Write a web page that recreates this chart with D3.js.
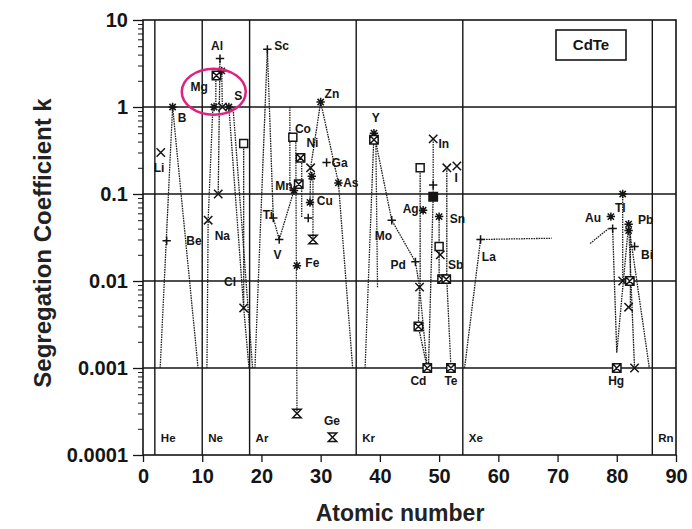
<!DOCTYPE html>
<html>
<head>
<meta charset="utf-8">
<script src="https://cdn.jsdelivr.net/npm/d3@7"></script>
<style>
body { margin: 0; background: #fff; }
text { font-family: Arial, "Liberation Sans", sans-serif; }
</style>
</head>
<body>
<div id="vis"></div>
<script>
// atomic number, k, marker type
var markers = [
  [3, 0.30, "x"], [4, 0.029, "plus"], [5, 1.0, "star"],
  [11, 0.05, "x"], [12, 1.0, "star"], [12.4, 2.3, "boxx"], [13, 3.6, "plus"],
  [13.3, 2.6, "star"], [12.7, 0.1, "x"], [14.5, 1.0, "star"], [13.4, 1.0, "x"],
  [17, 0.38, "square"], [17, 0.0049, "x"],
  [21, 4.6, "plus"], [22, 0.053, "plus"], [23, 0.03, "plus"],
  [25.5, 0.11, "star"], [26.3, 0.13, "boxx"], [25.3, 0.45, "square"], [26.6, 0.26, "boxx"],
  [28.3, 0.2, "x"], [28.5, 0.16, "star"], [28.2, 0.08, "star"], [27.9, 0.053, "plus"],
  [28.7, 0.03, "hour"], [26, 0.015, "star"], [26, 0.0003, "hour"],
  [30, 1.14, "star"], [31, 0.23, "plus"], [33, 0.134, "star"], [32, 0.00016, "hour"],
  [39, 0.5, "star"], [39, 0.42, "boxx"], [42, 0.05, "plus"],
  [46, 0.0166, "plus"], [46.7, 0.0085, "x"], [46.5, 0.003, "boxx"],
  [47.3, 0.065, "star"], [46.8, 0.2, "square"],
  [49, 0.43, "x"], [49, 0.127, "plus"], [49, 0.093, "fsq"],
  [50, 0.055, "star"], [51.3, 0.2, "x"], [53, 0.21, "x"],
  [50, 0.025, "square"], [50.2, 0.02, "x"], [50.5, 0.0105, "boxx"], [51.2, 0.0105, "boxx"],
  [48, 0.001, "boxx"], [52, 0.001, "boxx"],
  [57, 0.03, "plus"],
  [81, 0.1, "star"], [79, 0.055, "star"], [79.3, 0.04, "plus"],
  [82, 0.045, "star"], [82, 0.038, "star"], [83, 0.025, "plus"],
  [81, 0.01, "x"], [82.2, 0.01, "boxx"], [82, 0.005, "x"],
  [80, 0.001, "boxx"], [83, 0.001, "x"]
];

// element label text, atomic number, k where the text sits
var pointLabels = [
  ["Li", 2.7, 0.2], ["B", 6.6, 0.75], ["Be", 8.6, 0.029], ["Na", 13.4, 0.033],
  ["Mg", 9.5, 1.7], ["Al", 12.5, 5.0], ["S", 16.1, 1.35], ["Cl", 14.7, 0.0098],
  ["Sc", 23.4, 5.0], ["Ti", 21.1, 0.057], ["V", 22.7, 0.02], ["Mn", 23.8, 0.125],
  ["Co", 27.0, 0.56], ["Ni", 28.6, 0.39], ["Ga", 33.2, 0.23], ["As", 35.1, 0.133],
  ["Cu", 30.7, 0.084], ["Fe", 28.6, 0.0163], ["Zn", 31.9, 1.4], ["Ge", 31.9, 0.00025],
  ["Y", 39.3, 0.76], ["Mo", 40.6, 0.033], ["Ag", 45.2, 0.068], ["In", 50.8, 0.38],
  ["I", 52.9, 0.155], ["Sn", 53.1, 0.052], ["Pd", 43.1, 0.0155], ["Sb", 52.8, 0.0155],
  ["Cd", 46.5, 0.00072], ["Te", 52.0, 0.00072], ["La", 58.4, 0.019],
  ["Au", 76.0, 0.053], ["Tl", 80.6, 0.07], ["Pb", 84.9, 0.05], ["Bi", 85.1, 0.02],
  ["Hg", 79.9, 0.00072]
];

var nobleGases = [["He", 2], ["Ne", 10], ["Ar", 18], ["Kr", 36], ["Xe", 54], ["Rn", 86]];

// dotted connecting lines, as [Z, k] points
var traces = [
  [[2.9, 0.001], [5, 1.0], [9.3, 0.001]],
  [[10.8, 0.001], [11, 0.05], [11.8, 1.0]],
  [[13, 3.6], [12.7, 0.1]],
  [[12.3, 1.0], [12.3, 2.3]],
  [[13.4, 1.0], [13.3, 2.6]],
  [[14.5, 1.0], [17, 0.0049], [17.9, 0.001]],
  [[15.2, 1.0], [18.5, 0.001]],
  [[17, 0.38], [17, 0.0049]],
  [[18.9, 0.001], [21, 4.6], [22, 0.053], [23, 0.03], [25.5, 0.11]],
  [[24.8, 1.0], [24.8, 0.11]],
  [[25.8, 0.45], [26, 0.0003]],
  [[30, 1.14], [33, 0.134], [35.4, 0.001]],
  [[30, 1.14], [28.3, 0.2], [28.2, 0.08]],
  [[26.8, 0.26], [26.8, 0.053]],
  [[28.7, 0.16], [28.7, 0.03]],
  [[37.5, 0.001], [39, 0.5], [42, 0.05], [46, 0.0166], [46.7, 0.0085], [48, 0.001]],
  [[39.3, 0.5], [39.6, 0.0085]],
  [[46.8, 0.2], [46.8, 0.0085]],
  [[46.7, 0.0085], [46.5, 0.003], [48, 0.001]],
  [[49, 0.43], [49, 0.093], [48.2, 0.001]],
  [[51.3, 0.2], [51.3, 0.0105], [52, 0.001]],
  [[50, 0.055], [50, 0.0105]],
  [[54.3, 0.001], [57, 0.03], [69, 0.031]],
  [[75.5, 0.027], [78.6, 0.04]],
  [[79.3, 0.04], [80, 0.0015], [82, 0.045]],
  [[81, 0.1], [81, 0.01]],
  [[82, 0.045], [83, 0.001]],
  [[82, 0.045], [85.5, 0.001]],
  [[82.3, 0.04], [82.3, 0.005]]
];

var xTicks = [0, 10, 20, 30, 40, 50, 60, 70, 80, 90];
var yTicks = [10, 1, 0.1, 0.01, 0.001, 0.0001];
var yTickLabels = ["10", "1", "0.1", "0.01", "0.001", "0.0001"];
var gridValues = [1, 0.1, 0.01, 0.001];

var width = 692, height = 529;
var svg = d3.select("#vis").append("svg")
  .attr("width", width)
  .attr("height", height);

var x = d3.scaleLinear().domain([0, 90]).range([143, 676]);
var y = d3.scaleLog().domain([0.0001, 10]).range([455, 20]);

var ink = "#151515";

// grid lines at each decade
svg.selectAll(".grid")
  .data(gridValues)
  .enter().append("line")
    .attr("x1", x(0)).attr("x2", x(90))
    .attr("y1", function(d){ return y(d) }).attr("y2", function(d){ return y(d) })
    .attr("stroke", ink).attr("stroke-width", 1.6);

// noble gas lines
svg.selectAll(".noble")
  .data(nobleGases)
  .enter().append("line")
    .attr("x1", function(d){ return x(d[1]) }).attr("x2", function(d){ return x(d[1]) })
    .attr("y1", y(10)).attr("y2", y(0.0001))
    .attr("stroke", ink).attr("stroke-width", 1.4);

svg.selectAll(".nobleLab")
  .data(nobleGases)
  .enter().append("text")
    .attr("x", function(d){ return x(d[1]) + 6 })
    .attr("y", y(0.000157))
    .attr("dy", "0.35em")
    .attr("font-size", 11.5)
    .attr("font-weight", "bold")
    .attr("fill", ink)
    .text(function(d){ return d[0] });

// dotted traces
var line = d3.line()
  .x(function(d){ return x(d[0]) })
  .y(function(d){ return y(d[1]) });

svg.selectAll(".trace")
  .data(traces)
  .enter().append("path")
    .attr("d", line)
    .attr("fill", "none")
    .attr("stroke", "#1e1e1e")
    .attr("stroke-width", 1.3)
    .attr("stroke-dasharray", "1.6,0.9");

// frame
svg.append("rect")
  .attr("x", x(0)).attr("y", y(10))
  .attr("width", x(90) - x(0)).attr("height", y(0.0001) - y(10))
  .attr("fill", "none").attr("stroke", ink).attr("stroke-width", 1.6);

// markers
function symPath(t, s) {
  var a = s * 0.75;
  if (t == "plus") return "M" + (-s) + ",0H" + s + "M0," + (-s) + "V" + s;
  if (t == "x") return "M" + (-s) + "," + (-s) + "L" + s + "," + s + "M" + (-s) + "," + s + "L" + s + "," + (-s);
  if (t == "star") return "M" + (-s) + ",0H" + s + "M0," + (-s) + "V" + s +
    "M" + (-a) + "," + (-a) + "L" + a + "," + a + "M" + (-a) + "," + a + "L" + a + "," + (-a);
  if (t == "square" || t == "fsq") return "M" + (-s) + "," + (-s) + "H" + s + "V" + s + "H" + (-s) + "Z";
  if (t == "boxx") return "M" + (-s) + "," + (-s) + "H" + s + "V" + s + "H" + (-s) + "Z" +
    "M" + (-s) + "," + (-s) + "L" + s + "," + s + "M" + (-s) + "," + s + "L" + s + "," + (-s);
  if (t == "hour") return "M" + (-s) + "," + (-s) + "H" + s + "L" + (-s) + "," + s + "H" + s + "Z";
  return "";
}

svg.selectAll(".mark")
  .data(markers)
  .enter().append("path")
    .attr("transform", function(d){ return "translate(" + x(d[0]) + "," + y(d[1]) + ")" })
    .attr("d", function(d){ return symPath(d[2], d[2] == "square" ? 4 : 4.2) })
    .attr("fill", function(d){ return d[2] == "fsq" ? ink : (d[2] == "square" || d[2] == "boxx" ? "#fff" : "none") })
    .attr("stroke", ink)
    .attr("stroke-width", 1.5);

svg.selectAll(".plab")
  .data(pointLabels)
  .enter().append("text")
    .attr("x", function(d){ return x(d[1]) })
    .attr("y", function(d){ return y(d[2]) })
    .attr("dy", "0.35em")
    .attr("text-anchor", "middle")
    .attr("font-size", 12)
    .attr("font-weight", "bold")
    .attr("fill", ink)
    .text(function(d){ return d[0] });

// pink highlight ellipse around Mg/Al/S
svg.append("ellipse")
  .attr("cx", x(11.95)).attr("cy", y(1.5))
  .attr("rx", 32).attr("ry", 23)
  .attr("fill", "none")
  .attr("stroke", "#e0227f")
  .attr("stroke-width", 2.5);

// CdTe box
svg.append("rect")
  .attr("x", 556).attr("y", 30).attr("width", 70).attr("height", 30)
  .attr("fill", "#fff").attr("stroke", ink).attr("stroke-width", 1.6);
svg.append("text")
  .attr("x", 591).attr("y", 45).attr("dy", "0.35em")
  .attr("text-anchor", "middle")
  .attr("font-size", 15).attr("font-weight", "bold").attr("fill", ink)
  .text("CdTe");

// axes
var minorTicks = [];
[0.0001, 0.001, 0.01, 0.1, 1].forEach(function(dec){
  for (var m = 2; m <= 9; m++) minorTicks.push(dec * m);
});

var yAxis = svg.append("g")
  .attr("transform", "translate(" + x(0) + ",0)")
  .call(d3.axisLeft(y).tickValues(yTicks)
    .tickFormat(function(d, i){ return yTickLabels[i] })
    .tickSize(10).tickPadding(5));
yAxis.select(".domain").remove();
yAxis.selectAll("line").attr("stroke", ink).attr("stroke-width", 1.3);
yAxis.selectAll("text").attr("font-size", 20).attr("font-weight", "bold").attr("fill", ink)
  .attr("font-family", "Arial, 'Liberation Sans', sans-serif");

var yMinor = svg.append("g")
  .attr("transform", "translate(" + x(0) + ",0)")
  .call(d3.axisLeft(y).tickValues(minorTicks).tickFormat("").tickSize(5));
yMinor.select(".domain").remove();
yMinor.selectAll("line").attr("stroke", ink).attr("stroke-width", 1);

var xAxis = svg.append("g")
  .attr("transform", "translate(0," + y(0.0001) + ")")
  .call(d3.axisBottom(x).tickValues(xTicks).tickSize(7).tickPadding(7));
xAxis.select(".domain").remove();
xAxis.selectAll("line").attr("stroke", ink).attr("stroke-width", 1.3);
xAxis.selectAll("text").attr("font-size", 20).attr("font-weight", "bold").attr("fill", ink)
  .attr("font-family", "Arial, 'Liberation Sans', sans-serif");

svg.append("text")
  .attr("x", 400).attr("y", 521)
  .attr("text-anchor", "middle")
  .attr("font-size", 23).attr("font-weight", "bold").attr("fill", "#222")
  .text("Atomic number");

svg.append("text")
  .attr("transform", "translate(51,243) rotate(-90)")
  .attr("text-anchor", "middle")
  .attr("font-size", 24).attr("font-weight", "bold").attr("fill", "#222")
  .text("Segregation Coefficient k");
</script>
</body>
</html>
